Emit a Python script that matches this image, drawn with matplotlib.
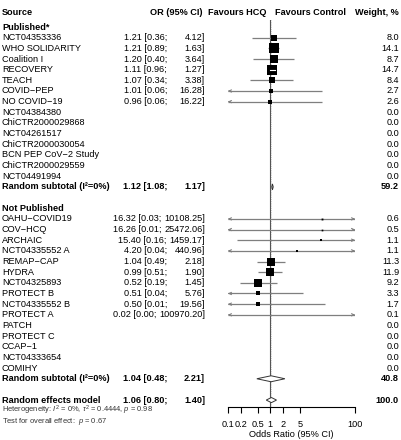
import numpy as np
import matplotlib
matplotlib.use("Agg")
import matplotlib.pyplot as plt
from matplotlib.transforms import blended_transform_factory
from matplotlib.patches import Polygon

plt.rcParams['font.family'] = ['Liberation Sans', 'DejaVu Sans']
plt.rcParams['mathtext.fontset'] = 'custom'
plt.rcParams['mathtext.rm'] = 'Liberation Sans'
plt.rcParams['mathtext.it'] = 'Liberation Sans:italic'

# published trials
pub_names = ["NCT04353336", "WHO SOLIDARITY", "Coalition I", "RECOVERY", "TEACH",
             "COVID\u2212PEP", "NO COVID\u221219", "NCT04384380", "ChiCTR2000029868",
             "NCT04261517", "ChiCTR2000030054", "BCN PEP CoV\u22122 Study",
             "ChiCTR2000029559", "NCT04491994"]
pub_or = [1.21, 1.21, 1.20, 1.11, 1.07, 1.01, 0.96]
pub_lo = [0.36, 0.89, 0.40, 0.96, 0.34, 0.06, 0.06]
pub_hi = [4.12, 1.63, 3.64, 1.27, 3.38, 16.28, 16.22]
pub_w = [8.0, 14.1, 8.7, 14.7, 8.4, 2.7, 2.6, 0.0, 0.0, 0.0, 0.0, 0.0, 0.0, 0.0]
pub_sub = (1.12, 1.08, 1.17, 59.2)

# unpublished trials
unp_names = ["OAHU\u2212COVID19", "COV\u2212HCQ", "ARCHAIC", "NCT04335552 A", "REMAP\u2212CAP",
             "HYDRA", "NCT04325893", "PROTECT B", "NCT04335552 B", "PROTECT A",
             "PATCH", "PROTECT C", "CCAP\u22121", "NCT04333654", "COMIHY"]
unp_or = [16.32, 16.26, 15.40, 4.20, 1.04, 0.99, 0.52, 0.51, 0.50, 0.02]
unp_lo = [0.03, 0.01, 0.16, 0.04, 0.49, 0.51, 0.19, 0.04, 0.01, 0.00]
unp_hi = [10108.25, 25472.06, 1459.17, 440.96, 2.18, 1.90, 1.45, 5.76, 19.56, 100970.20]
unp_w = [0.6, 0.5, 1.1, 1.1, 11.3, 11.9, 9.2, 3.3, 1.7, 0.1, 0.0, 0.0, 0.0, 0.0, 0.0]
unp_sub = (1.04, 0.48, 2.21, 40.8)

overall = (1.06, 0.80, 1.40, 100.0)

xticks = [0.1, 0.2, 0.5, 1, 2, 5, 100]
xticklabels = ["0.1", "0.2", "0.5", "1", "2", "5", "100"]

XMIN, XMAX = 0.1, 100
GREY = "#7f7f7f"
W, H = 401, 440

fig = plt.figure(figsize=(W / 100, H / 100), dpi=100)
ax = fig.add_axes([228/W, 33/H, 127/W, 387/H])
ax.set_xscale('log')
ax.set_xlim(XMIN, XMAX)
ax.set_ylim(35.65, -0.66)

tr = blended_transform_factory(fig.transFigure, ax.transData)
fs = 6.6
renderer = fig.canvas.get_renderer()


def row_text(y, name, est=None, lo=None, hi=None, w=None, bold=False):
    fw = 'bold' if bold else 'normal'
    ax.text(2/W, y, name, transform=tr, ha='left', va='center', fontsize=fs, fontweight=fw)
    if est is not None:
        t_hi = ax.text(205/W, y, f"{hi:.2f}]", transform=tr, ha='right', va='center',
                       fontsize=fs, fontweight=fw)
        # keep at least a space between "lo;" and the upper limit
        left_hi = t_hi.get_window_extent(renderer).x0
        xr = min(167, left_hi - 3)
        ax.text(xr/W, y, f"{est:.2f} [{lo:.2f};", transform=tr, ha='right', va='center',
                fontsize=fs, fontweight=fw)
    if w is not None:
        ax.text(399/W, y, f"{w:.1f}", transform=tr, ha='right', va='center',
                fontsize=fs, fontweight=fw)


def study_mark(y, est, lo, hi, w):
    l, h = max(lo, XMIN), min(hi, XMAX)
    ax.plot([l, h], [y, y], color=GREY, lw=0.9, zorder=2, solid_capstyle='butt')
    if lo < XMIN:
        ax.annotate('', xy=(XMIN, y), xytext=(XMIN * 1.25, y),
                    arrowprops=dict(arrowstyle='->', color=GREY, lw=0.8, mutation_scale=4))
    if hi > XMAX:
        ax.annotate('', xy=(XMAX, y), xytext=(XMAX / 1.25, y),
                    arrowprops=dict(arrowstyle='->', color=GREY, lw=0.8, mutation_scale=4))
    side_px = 2.4 * np.sqrt(w)
    ax.plot(est, y, marker='s', color='black', markersize=max(side_px * 0.72, 1.2),
            markeredgewidth=0, zorder=3)
    # CI inside the box is drawn in white
    if lo > 0 and 42 * np.log10(hi / lo) < side_px:
        ax.plot([lo, hi], [y, y], color='white', lw=0.8, zorder=4)


def diamond(y, est, lo, hi, half=0.28):
    ax.add_patch(Polygon([[lo, y], [est, y - half], [hi, y], [est, y + half]],
                         closed=True, facecolor='white', edgecolor='#333333', lw=0.7, zorder=3))


# header
hy = -1.41
ax.text(2/W, hy, "Source", transform=tr, ha='left', va='center', fontsize=fs, fontweight='bold')
ax.text(202/W, hy, "OR (95% CI)", transform=tr, ha='right', va='center', fontsize=fs, fontweight='bold')
ax.text(266/W, hy, "Favours HCQ", transform=tr, ha='right', va='center', fontsize=fs, fontweight='bold')
ax.text(275/W, hy, "Favours Control", transform=tr, ha='left', va='center', fontsize=fs, fontweight='bold')
ax.text(399/W, hy, "Weight, %", transform=tr, ha='right', va='center', fontsize=fs, fontweight='bold')

# published block
row_text(0, "Published*", bold=True)
for i, name in enumerate(pub_names):
    y = 1 + i
    if i < len(pub_or):
        row_text(y, name, pub_or[i], pub_lo[i], pub_hi[i], pub_w[i])
        study_mark(y, pub_or[i], pub_lo[i], pub_hi[i], pub_w[i])
    else:
        row_text(y, name, w=pub_w[i])
y_sub1 = 1 + len(pub_names)
row_text(y_sub1, "Random subtotal (I\u00b2=0%)", *pub_sub, bold=True)
diamond(y_sub1, pub_sub[0], pub_sub[1], pub_sub[2])

# not published block
y0 = y_sub1 + 2
row_text(y0, "Not Published", bold=True)
for i, name in enumerate(unp_names):
    y = y0 + 1 + i
    if i < len(unp_or):
        row_text(y, name, unp_or[i], unp_lo[i], unp_hi[i], unp_w[i])
        study_mark(y, unp_or[i], unp_lo[i], unp_hi[i], unp_w[i])
    else:
        row_text(y, name, w=unp_w[i])
y_sub2 = y0 + 1 + len(unp_names)
row_text(y_sub2, "Random subtotal (I\u00b2=0%)", *unp_sub, bold=True)
diamond(y_sub2, unp_sub[0], unp_sub[1], unp_sub[2])

# overall
y_all = y_sub2 + 2
row_text(y_all, "Random effects model", *overall, bold=True)
diamond(y_all, overall[0], overall[1], overall[2], half=0.24)

ax.text(2/W, 35.98, r"Heterogeneity: $I^2$ = 0%, $\tau^2$ = 0.4444, $p$ = 0.98",
        transform=tr, ha='left', va='center', fontsize=5.4, color='#333333')
ax.text(2/W, 37.05, r"Test for overall effect:  $p$ = 0.67",
        transform=tr, ha='left', va='center', fontsize=5.4, color='#333333')

# reference lines
ax.axvline(1, color='#555555', lw=0.8, zorder=1)
ax.axvline(overall[0], color='#bbbbbb', lw=0.6, ls=':', zorder=1)

for s in ['top', 'right', 'left']:
    ax.spines[s].set_visible(False)
ax.spines['bottom'].set_linewidth(0.8)
ax.set_yticks([])
ax.set_xticks(xticks)
ax.set_xticklabels(xticklabels)
ax.minorticks_off()
ax.tick_params(axis='x', labelsize=fs, length=4, width=0.8, pad=5)
fig.text(291.5/W, 1 - 434/H, "Odds Ratio (95% CI)", ha='center', va='center', fontsize=fs)

fig.savefig("out.png", dpi=100)
